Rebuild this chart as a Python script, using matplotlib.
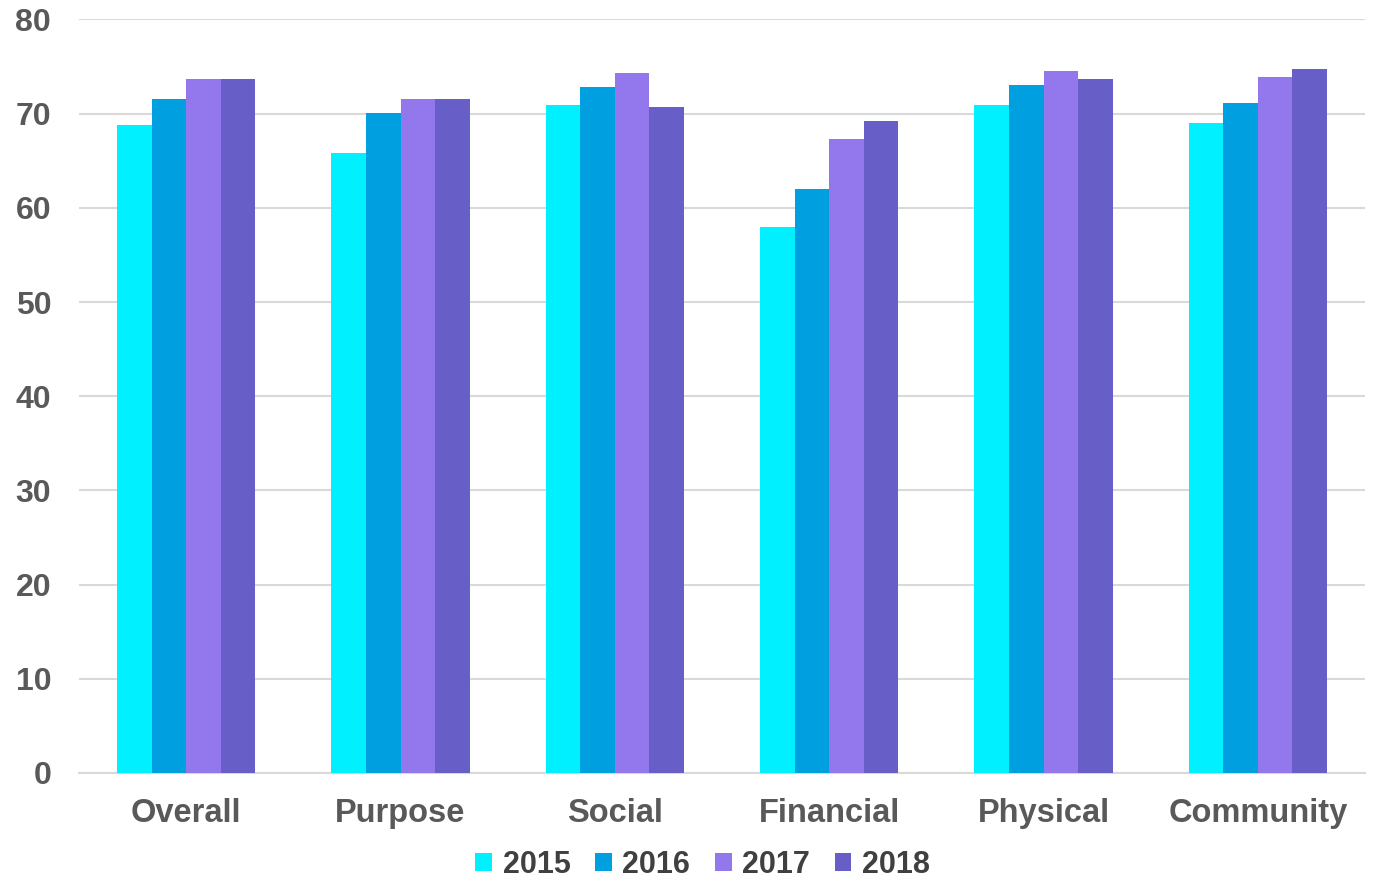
import matplotlib
matplotlib.use("Agg")
import matplotlib.pyplot as plt
import numpy as np

categories = ["Overall", "Purpose", "Social", "Financial", "Physical", "Community"]
years = ["2015", "2016", "2017", "2018"]
v2015 = [68.8, 65.8, 70.9, 58.0, 70.9, 69.0]
v2016 = [71.6, 70.1, 72.8, 62.0, 73.0, 71.1]
v2017 = [73.7, 71.6, 74.3, 67.3, 74.5, 73.9]
v2018 = [73.7, 71.6, 70.7, 69.2, 73.7, 74.7]
colors = ["#00F0FF", "#00A0E0", "#9278EC", "#675EC7"]
yticks = [0, 10, 20, 30, 40, 50, 60, 70, 80]

plt.rcParams['font.family'] = ['Liberation Sans', 'DejaVu Sans']

fig = plt.figure(figsize=(13.75, 8.84), dpi=100)
ax = fig.add_axes([79/1375, 1-773/884, (1365-79)/1375, (773-19.4)/884])

x = np.arange(len(categories))
w = 0.161
series = [v2015, v2016, v2017, v2018]
for i, (vals, c, yr) in enumerate(zip(series, colors, years)):
    ax.bar(x + (i - 1.5) * w, vals, width=w, color=c, label=yr, zorder=3)

ax.set_xlim(-0.5, len(categories) - 0.5)
ax.set_ylim(0, 80)
ax.set_yticks(yticks)
ax.set_yticklabels([str(t) for t in yticks], fontsize=23, fontweight='bold', color='#595959')
ax.set_xticks(x)
ax.set_xticklabels(categories, fontsize=23.5, fontweight='bold', color='#595959')
ax.tick_params(axis='y', length=0, pad=20)
ax.tick_params(axis='x', length=0, pad=18)
ax.grid(axis='y', color='#D9D9D9', linewidth=1.5, zorder=0)
for s in ['left', 'right', 'top']:
    ax.spines[s].set_visible(False)
ax.spines['bottom'].set_color('#D9D9D9')
ax.spines['bottom'].set_linewidth(1.5)

leg = fig.legend(loc='center', bbox_to_anchor=(0.511, 1 - 865/884), ncol=4, frameon=False,
                 prop={'size': 22, 'weight': 'bold'}, handlelength=0.55, handleheight=0.5,
                 handletextpad=0.35, columnspacing=0.8, borderpad=0.0)
for t in leg.get_texts():
    t.set_color('#404040')

fig.savefig("out.png", dpi=100)
